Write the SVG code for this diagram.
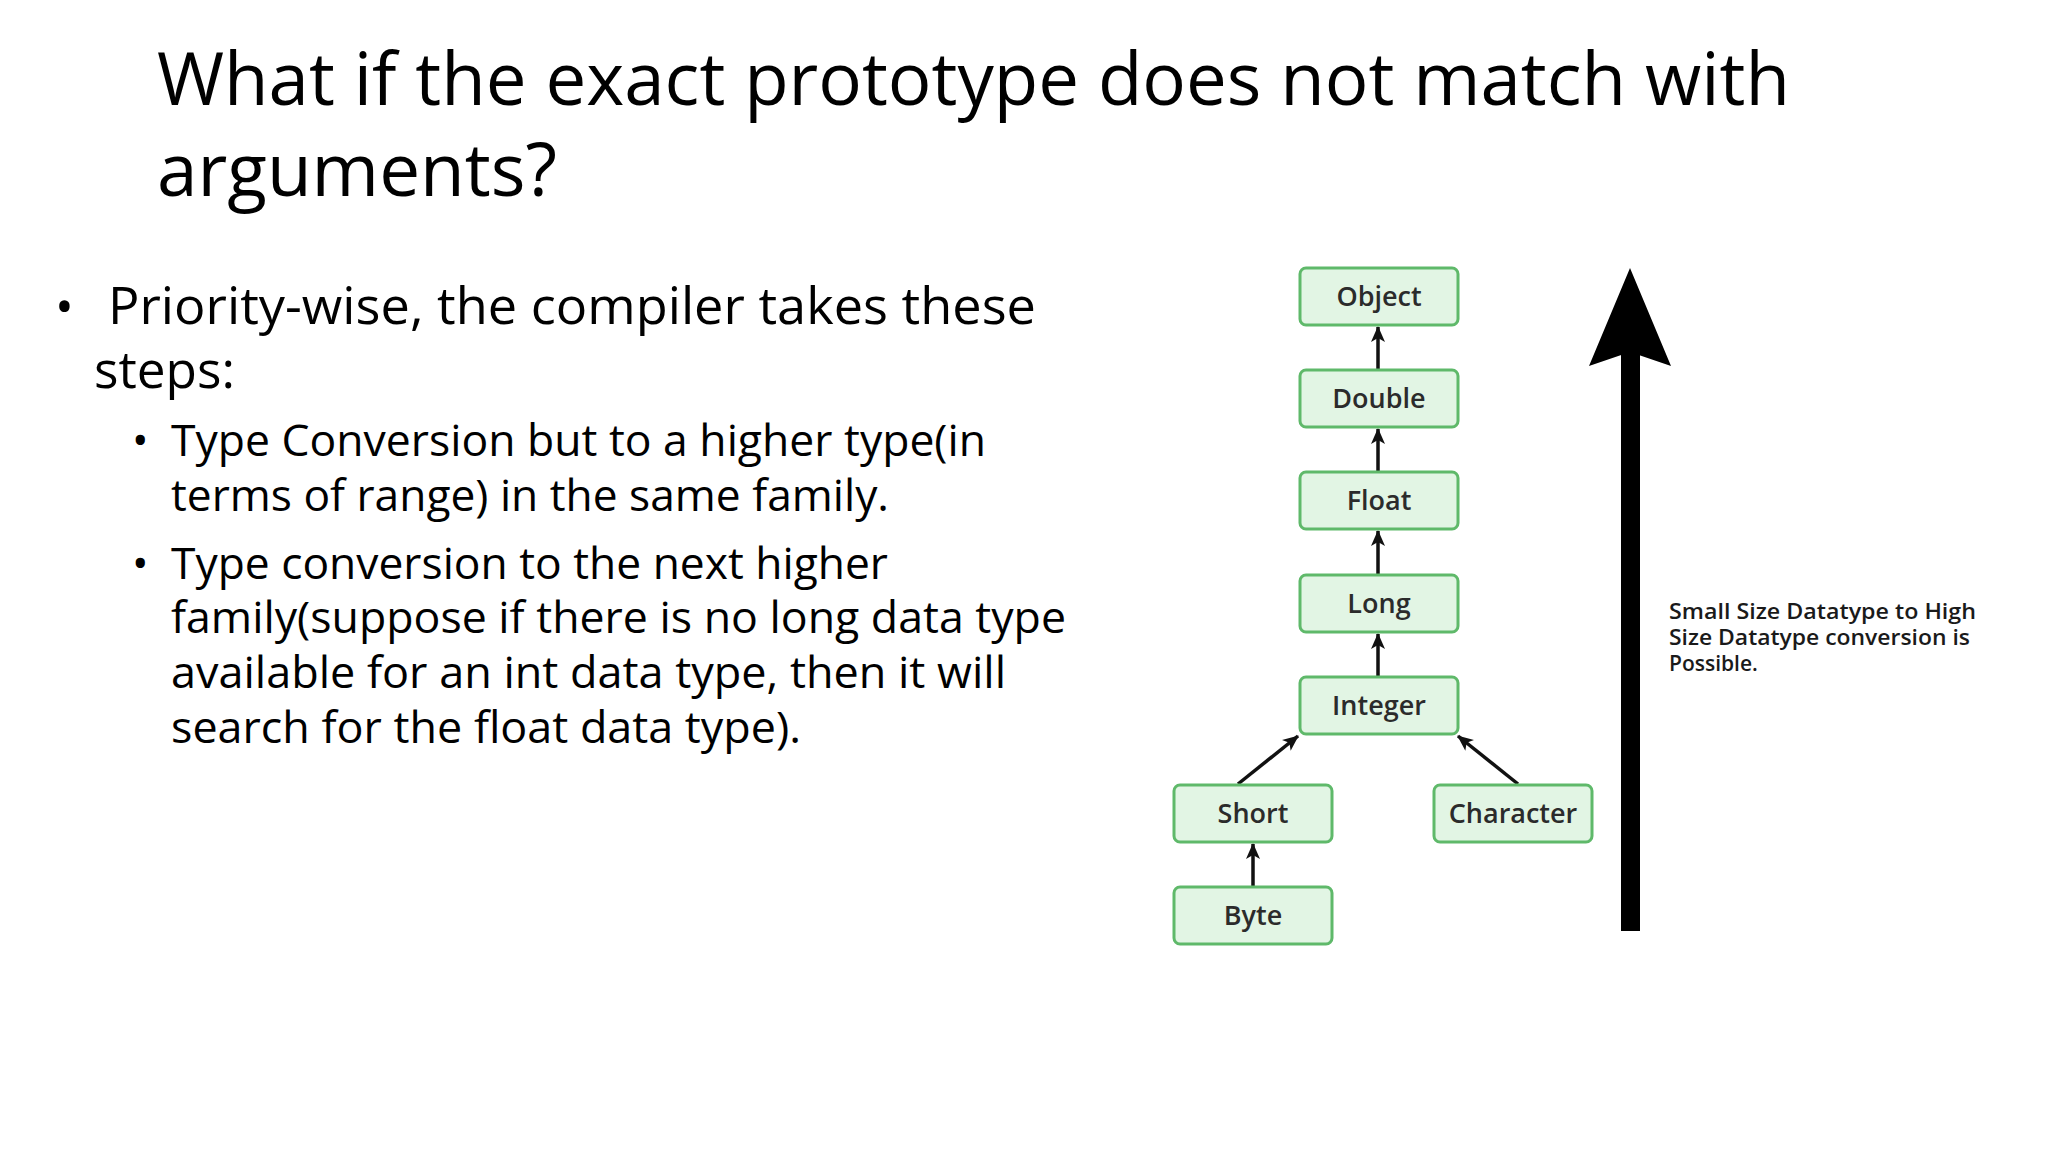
<svg xmlns="http://www.w3.org/2000/svg" width="2048" height="1152" viewBox="0 0 2048 1152">
<style>
.t{font-family:"Open Sans","Liberation Sans",sans-serif;fill:#000}
.n rect{fill:#e2f5e4;stroke:#5fb96a;stroke-width:3}
.n text{font-family:"Open Sans","Liberation Sans",sans-serif;font-weight:600;font-size:27px;fill:#2b2b2b;text-anchor:middle}
.c line{stroke:#111;stroke-width:3.5;marker-end:url(#a)}
</style>
<defs><marker id="a" markerWidth="16" markerHeight="14" refX="15" refY="7" orient="auto" markerUnits="userSpaceOnUse"><path d="M0,0 L16,7 L0,14 L4,7 Z" fill="#111"/></marker></defs>
<rect width="2048" height="1152" fill="#fff"/>
<text class="t" x="157" y="105" font-size="74" textLength="1633" lengthAdjust="spacingAndGlyphs">What if the exact prototype does not match with</text>
<text class="t" x="157" y="196" font-size="74" textLength="400" lengthAdjust="spacingAndGlyphs">arguments?</text>
<text class="t" x="55" y="324" font-size="50">•</text>
<text class="t" x="108" y="324" font-size="52" textLength="928" lengthAdjust="spacingAndGlyphs">Priority-wise, the compiler takes these</text>
<text class="t" x="94" y="388" font-size="52" textLength="141" lengthAdjust="spacingAndGlyphs">steps:</text>
<g font-size="44">
<text class="t" x="132" y="456">•</text>
<text class="t" x="171" y="456" textLength="815" lengthAdjust="spacingAndGlyphs">Type Conversion but to a higher type(in</text>
<text class="t" x="171" y="511" textLength="718" lengthAdjust="spacingAndGlyphs">terms of range) in the same family.</text>
<text class="t" x="132" y="579">•</text>
<text class="t" x="171" y="579" textLength="717" lengthAdjust="spacingAndGlyphs">Type conversion to the next higher</text>
<text class="t" x="171" y="633" textLength="895" lengthAdjust="spacingAndGlyphs">family(suppose if there is no long data type</text>
<text class="t" x="171" y="688" textLength="835" lengthAdjust="spacingAndGlyphs">available for an int data type, then it will</text>
<text class="t" x="171" y="743" textLength="630" lengthAdjust="spacingAndGlyphs">search for the float data type).</text>
</g>
<g class="c">
<line x1="1378" y1="369" x2="1378" y2="327"/>
<line x1="1378" y1="471" x2="1378" y2="429"/>
<line x1="1378" y1="574" x2="1378" y2="531"/>
<line x1="1378" y1="676" x2="1378" y2="634"/>
<line x1="1238" y1="784" x2="1298" y2="736"/>
<line x1="1518" y1="784" x2="1458" y2="736"/>
<line x1="1253" y1="887" x2="1253" y2="844"/>
</g>
<g id="object" class="n"><rect x="1300" y="268" width="158" height="57" rx="6"/><text x="1379" y="306">Object</text></g>
<g id="double" class="n"><rect x="1300" y="370" width="158" height="57" rx="6"/><text x="1379" y="408">Double</text></g>
<g id="float" class="n"><rect x="1300" y="472" width="158" height="57" rx="6"/><text x="1379" y="510">Float</text></g>
<g id="long" class="n"><rect x="1300" y="575" width="158" height="57" rx="6"/><text x="1379" y="613">Long</text></g>
<g id="integer" class="n"><rect x="1300" y="677" width="158" height="57" rx="6"/><text x="1379" y="715">Integer</text></g>
<g id="short" class="n"><rect x="1174" y="785" width="158" height="57" rx="6"/><text x="1253" y="823">Short</text></g>
<g id="character" class="n"><rect x="1434" y="785" width="158" height="57" rx="6"/><text x="1513" y="823">Character</text></g>
<g id="byte" class="n"><rect x="1174" y="887" width="158" height="57" rx="6"/><text x="1253" y="925">Byte</text></g>
<g id="bigarrow">
<rect x="1621" y="340" width="19" height="591" fill="#000"/>
<path d="M1630,268 L1671,366 L1630,352 L1589,366 Z" fill="#000"/>
</g>
<g font-family="Open Sans, Liberation Sans, sans-serif" font-weight="600" font-size="21" fill="#1a1a1a">
<text x="1669" y="619" textLength="307" lengthAdjust="spacingAndGlyphs">Small Size Datatype to High</text>
<text x="1669" y="645" textLength="301" lengthAdjust="spacingAndGlyphs">Size Datatype conversion is</text>
<text x="1669" y="671">Possible.</text>
</g>
</svg>
